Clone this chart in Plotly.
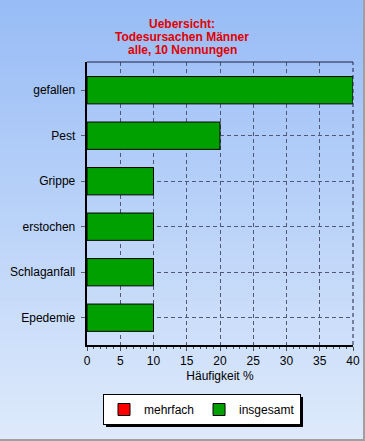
import plotly.graph_objects as go

categories = ["gefallen", "Pest", "Grippe", "erstochen", "Schlaganfall", "Epedemie"]
insgesamt = [40, 20, 10, 10, 10, 10]
mehrfach = [0, 0, 0, 0, 0, 0]
x_ticks = [0, 5, 10, 15, 20, 25, 30, 35, 40]
title_lines = ["Uebersicht:", "Todesursachen Männer", "alle, 10 Nennungen"]

W, H = 365, 441
ML, MR, MT, MB = 87, 12, 62, 96
PW, PH = W - ML - MR, H - MT - MB

def px_x(x):
    return (x - ML) / PW

def px_y(y):
    return (H - MB - y) / PH

FONT = "Liberation Sans, Arial, sans-serif"
DASH = "4px,3px"

fig = go.Figure()
fig.add_trace(go.Bar(y=categories, x=mehrfach, orientation="h", name="mehrfach",
                     marker=dict(color="#ff0000", line=dict(color="black", width=1)),
                     width=0.6))
fig.add_trace(go.Bar(y=categories, x=insgesamt, orientation="h", name="insgesamt",
                     marker=dict(color="#00a000", line=dict(color="black", width=1)),
                     width=0.6))

shapes = []
N = 60
top = (0x98, 0xbc, 0xf6)
bot = (0xde, 0xea, 0xfb)
for i in range(N):
    t = i / (N - 1)
    c = tuple(round(top[k] + (bot[k] - top[k]) * t) for k in range(3))
    y0 = i * H / N
    y1 = (i + 1) * H / N + 1
    shapes.append(dict(type="rect", xref="paper", yref="paper", layer="below",
                       x0=px_x(0), x1=px_x(W), y0=px_y(y1), y1=px_y(y0),
                       fillcolor="rgb(%d,%d,%d)" % c, line=dict(width=0)))
shapes.append(dict(type="line", xref="paper", yref="paper", x0=0, x1=1, y0=1, y1=1,
                   line=dict(color="#202040", width=1)))
shapes.append(dict(type="line", xref="paper", yref="paper", x0=1, x1=1, y0=0, y1=1,
                   line=dict(color="#202040", width=1, dash=DASH)))
shapes.append(dict(type="line", xref="paper", yref="paper", x0=px_x(0), x1=px_x(W),
                   y0=px_y(H - 1), y1=px_y(H - 1), line=dict(color="#a0a0a0", width=2)))
shapes.append(dict(type="line", xref="paper", yref="paper", x0=px_x(W - 1), x1=px_x(W - 1),
                   y0=px_y(0), y1=px_y(H), line=dict(color="#a0a0a0", width=2)))

# legend geometry (pixels)
LG_W, LG_H = 197, 30
LG_X0, LG_Y0 = 201 - LG_W // 2, 394
shapes.append(dict(type="rect", xref="paper", yref="paper", layer="above",
                   x0=px_x(LG_X0 + 3), x1=px_x(LG_X0 + LG_W + 3),
                   y0=px_y(LG_Y0 + LG_H + 3), y1=px_y(LG_Y0 + 3),
                   fillcolor="black", line=dict(width=0)))

annotations = []
for i, line in enumerate(title_lines):
    annotations.append(dict(text="<b>%s</b>" % line, xref="paper", yref="paper",
                            x=px_x(182), y=px_y(24 + 13 * i), xanchor="center", yanchor="middle",
                            showarrow=False, font=dict(family=FONT, size=12, color="#e00000")))

fig.update_layout(
    template="none",
    width=W, height=H,
    margin=dict(l=ML, r=MR, t=MT, b=MB, pad=0, autoexpand=False),
    paper_bgcolor="#dde9fb",
    plot_bgcolor="rgba(0,0,0,0)",
    barmode="overlay",
    font=dict(family=FONT, size=12, color="black"),
    shapes=shapes,
    annotations=annotations,
    showlegend=True,
    legend=dict(orientation="h", x=px_x(LG_X0), y=px_y(LG_Y0), xanchor="left", yanchor="top",
                bgcolor="white", bordercolor="black", borderwidth=1,
                font=dict(family=FONT, size=12, color="black"),
                traceorder="normal", itemwidth=30, tracegroupgap=0),
    xaxis=dict(range=[0, 40], tickvals=x_ticks, showgrid=True, gridcolor="#505878",
               griddash=DASH, gridwidth=1, zeroline=False, automargin=False,
               showline=True, linecolor="black", linewidth=2,
               ticks="outside", ticklen=4, tickcolor="#505050",
               minor=dict(dtick=1, ticks="outside", ticklen=2, tickcolor="#505050", showgrid=False),
               title=dict(text="Häufigkeit %", font=dict(size=12), standoff=4),
               fixedrange=True),
    yaxis=dict(categoryorder="array", categoryarray=categories, range=[5.6, -0.62],
               showgrid=True, gridcolor="#505878", griddash=DASH, gridwidth=1,
               showline=True, linecolor="black", linewidth=2, zeroline=False, automargin=False,
               ticks="outside", ticklen=4, tickcolor="#606060", ticksuffix=" ",
               fixedrange=True),
)

fig.write_html("out.html", config={"displayModeBar": False},
               post_script="document.body.style.margin='0';")
